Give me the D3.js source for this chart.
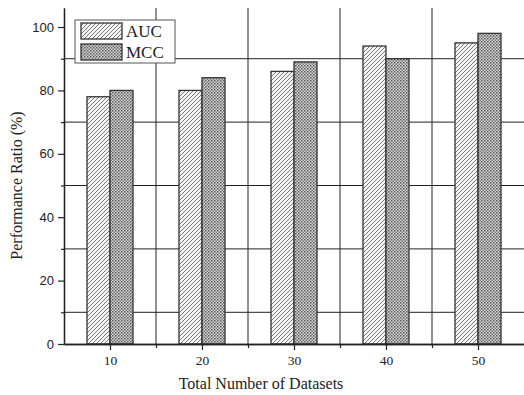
<!DOCTYPE html>
<html>
<head>
<meta charset="utf-8">
<script src="https://cdn.jsdelivr.net/npm/d3@7"></script>
<style>
  html, body { margin: 0; background: #fff; overflow: hidden; }
  svg { display: block; }
</style>
</head>
<body>
<div id="chart"></div>
<script>
// chart data
var categories = [10, 20, 30, 40, 50];
var aucValues = [78, 80, 86, 94, 95];
var mccValues = [80, 84, 89, 90, 98];
var seriesNames = ["AUC", "MCC"];
var yTicks = [0, 20, 40, 60, 80, 100];
var yGrid = [10, 30, 50, 70, 90];
var xGrid = [15, 25, 35, 45];

var svgWidth = 524;
var svgHeight = 395;
var margin = { top: 8, right: 0, bottom: 51, left: 64 };
var width = svgWidth - margin.left - margin.right;
var height = svgHeight - margin.top - margin.bottom;

var svg = d3.select("#chart")
  .append("svg")
  .attr("width", svgWidth)
  .attr("height", svgHeight);

// patterns for the bars
var defs = svg.append("defs");
var hatch = defs.append("pattern")
  .attr("id", "hatch")
  .attr("patternUnits", "userSpaceOnUse")
  .attr("width", 4).attr("height", 4);
hatch.append("rect").attr("width", 4).attr("height", 4).attr("fill", "#f4f4f4");
hatch.append("path")
  .attr("d", "M-1,1 l2,-2 M0,4 l4,-4 M3,5 l2,-2")
  .attr("stroke", "#6a6a6a")
  .attr("stroke-width", 0.9);

var check = defs.append("pattern")
  .attr("id", "check")
  .attr("patternUnits", "userSpaceOnUse")
  .attr("width", 3).attr("height", 3);
check.append("rect").attr("width", 3).attr("height", 3).attr("fill", "#d8d8d8");
check.append("rect").attr("width", 1.5).attr("height", 1.5).attr("fill", "#555");
check.append("rect").attr("x", 1.5).attr("y", 1.5).attr("width", 1.5).attr("height", 1.5).attr("fill", "#777");

var chartGroup = svg.append("g")
  .attr("transform", `translate(${margin.left}, ${margin.top})`);

var xScale = d3.scaleLinear().domain([5, 55]).range([0, width]);
var yScale = d3.scaleLinear().domain([0, 106]).range([height, 0]);
var barW = 2.5;

// grid lines
chartGroup.selectAll("line.hgrid")
  .data(yGrid)
  .enter()
  .append("line")
  .attr("class", "hgrid")
  .attr("x1", 0).attr("x2", width)
  .attr("y1", d => yScale(d)).attr("y2", d => yScale(d))
  .attr("stroke", "#222").attr("stroke-width", 1);

chartGroup.selectAll("line.vgrid")
  .data(xGrid)
  .enter()
  .append("line")
  .attr("class", "vgrid")
  .attr("x1", d => xScale(d)).attr("x2", d => xScale(d))
  .attr("y1", 0).attr("y2", height)
  .attr("stroke", "#222").attr("stroke-width", 1);

// bars
var series = [
  { name: seriesNames[0], values: aucValues, fill: "url(#hatch)", offset: -barW },
  { name: seriesNames[1], values: mccValues, fill: "url(#check)", offset: 0 }
];

series.forEach(function(s) {
  chartGroup.selectAll("rect.bar-" + s.name)
    .data(categories)
    .enter()
    .append("rect")
    .attr("class", "bar-" + s.name)
    .attr("x", d => xScale(d + s.offset))
    .attr("y", (d, i) => yScale(s.values[i]))
    .attr("width", xScale(5 + barW) - xScale(5))
    .attr("height", (d, i) => height - yScale(s.values[i]))
    .attr("fill", s.fill)
    .attr("stroke", "#333")
    .attr("stroke-width", 1.3);
});

// axes
var xAxis = d3.axisBottom(xScale).tickValues(categories).tickSize(6).tickSizeOuter(0).tickPadding(5);
var xMinor = d3.axisBottom(xScale).tickValues(xGrid).tickSize(4).tickSizeOuter(0).tickFormat("");
var yAxis = d3.axisLeft(yScale).tickValues(yTicks).tickSize(6).tickSizeOuter(0).tickPadding(4);
var yMinor = d3.axisLeft(yScale).tickValues(yGrid).tickSize(3).tickSizeOuter(0).tickFormat("");

chartGroup.append("g")
  .attr("transform", `translate(0, ${height})`)
  .call(xMinor);
var gx = chartGroup.append("g")
  .attr("transform", `translate(0, ${height})`)
  .call(xAxis);
gx.selectAll("text")
  .style("font-family", "Liberation Serif, Times New Roman, serif")
  .style("font-size", "13.5px")
  .attr("fill", "#222");

chartGroup.append("g").call(yMinor);
var gy = chartGroup.append("g").call(yAxis);
gy.selectAll("text")
  .style("font-family", "Liberation Sans, Arial, sans-serif")
  .style("font-size", "13px")
  .attr("fill", "#222");

chartGroup.selectAll(".domain").attr("stroke", "#222").attr("stroke-width", 1.3);
chartGroup.selectAll(".tick line").attr("stroke", "#222").attr("stroke-width", 1.2);

// legend
var legend = chartGroup.append("g")
  .attr("transform", "translate(11, 12)");
legend.append("rect")
  .attr("width", 100).attr("height", 43)
  .attr("fill", "#fff")
  .attr("stroke", "#555")
  .attr("stroke-width", 1);
series.forEach(function(s, i) {
  legend.append("rect")
    .attr("x", 6).attr("y", 3 + i * 21)
    .attr("width", 41).attr("height", 16)
    .attr("fill", s.fill)
    .attr("stroke", "#333")
    .attr("stroke-width", 1.3);
  legend.append("text")
    .attr("x", 51).attr("y", 17 + i * 21)
    .style("font-family", "Liberation Serif, Times New Roman, serif")
    .style("font-size", "17px")
    .attr("fill", "#222")
    .text(s.name);
});

// axis titles
svg.append("text")
  .attr("transform", `translate(${margin.left + width / 2 - 33}, 389)`)
  .style("text-anchor", "middle")
  .style("font-family", "Liberation Serif, Times New Roman, serif")
  .style("font-size", "16px")
  .attr("fill", "#222")
  .text("Total Number of Datasets");

svg.append("text")
  .attr("transform", `translate(22, ${margin.top + yScale(50)}) rotate(-90)`)
  .style("text-anchor", "middle")
  .style("font-family", "Liberation Serif, Times New Roman, serif")
  .style("font-size", "16px")
  .attr("fill", "#222")
  .text("Performance Ratio (%)");
</script>
</body>
</html>
